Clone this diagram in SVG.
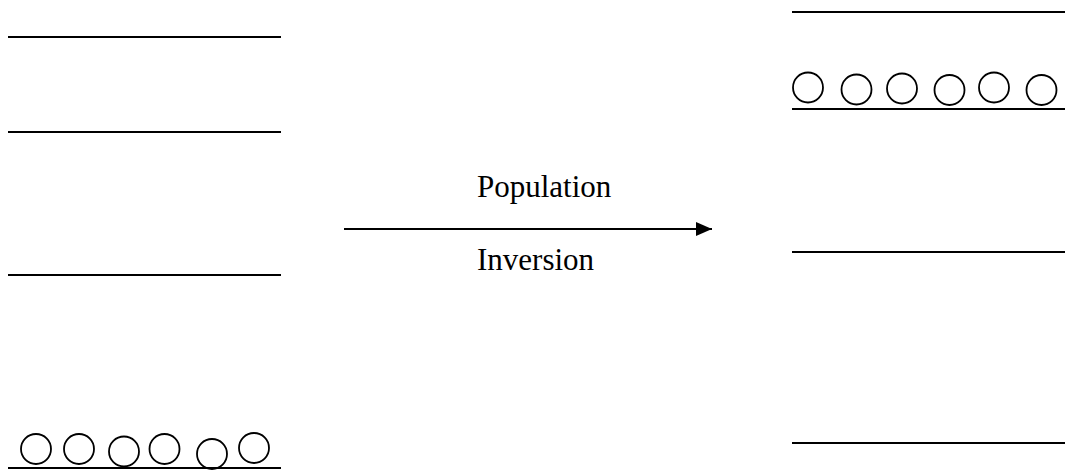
<svg xmlns="http://www.w3.org/2000/svg" width="1067" height="472" viewBox="0 0 1067 472">
<style>
.lvl{stroke:#000;stroke-width:2;fill:none}
.atom{stroke:#000;stroke-width:1.8;fill:none}
.lbl{font-family:"Liberation Serif","Times New Roman",serif;font-size:31px;fill:#000}
</style>
<defs>
<marker id="ah" markerUnits="userSpaceOnUse" markerWidth="16" markerHeight="14" refX="16" refY="7" orient="auto">
<path d="M0,0 L16,7 L0,14 Z" fill="#000"/>
</marker>
</defs>
<rect width="1067" height="472" fill="#fff"/>
<g id="left-levels">
<line class="lvl" x1="8" y1="37" x2="281" y2="37"/>
<line class="lvl" x1="8" y1="132" x2="281" y2="132"/>
<line class="lvl" x1="8" y1="275" x2="281" y2="275"/>
<line class="lvl" x1="8" y1="468" x2="281" y2="468"/>
</g>
<g id="left-atoms">
<circle class="atom" cx="36" cy="449" r="15"/>
<circle class="atom" cx="79" cy="449" r="15"/>
<circle class="atom" cx="124" cy="451.5" r="15"/>
<circle class="atom" cx="164.5" cy="449" r="15"/>
<circle class="atom" cx="212" cy="454" r="15"/>
<circle class="atom" cx="254" cy="448" r="15"/>
</g>
<g id="right-levels">
<line class="lvl" x1="792" y1="12" x2="1065" y2="12"/>
<line class="lvl" x1="792" y1="109" x2="1065" y2="109"/>
<line class="lvl" x1="792" y1="252" x2="1065" y2="252"/>
<line class="lvl" x1="792" y1="443" x2="1065" y2="443"/>
</g>
<g id="right-atoms">
<circle class="atom" cx="808" cy="87.5" r="15"/>
<circle class="atom" cx="856.5" cy="89.5" r="15"/>
<circle class="atom" cx="902" cy="88.5" r="15"/>
<circle class="atom" cx="949.5" cy="90" r="15"/>
<circle class="atom" cx="994" cy="87.5" r="15"/>
<circle class="atom" cx="1041.5" cy="90" r="15"/>
</g>
<g id="connectors">
<line x1="344" y1="229" x2="712" y2="229" stroke="#000" stroke-width="2" marker-end="url(#ah)"/>
</g>
<g id="labels">
<text class="lbl" x="477" y="197">Population</text>
<text class="lbl" x="477" y="270">Inversion</text>
</g>
</svg>
